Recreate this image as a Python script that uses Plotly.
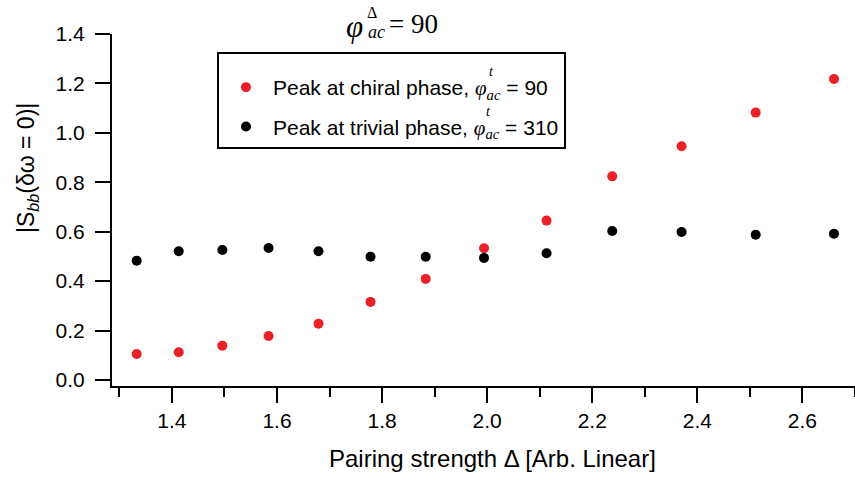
import plotly.graph_objects as go

# Pairing strength sweep and the peak height |S_bb(δω=0)| in each phase
pairing = [1.333, 1.413, 1.496, 1.584, 1.679, 1.778, 1.883, 1.994, 2.113, 2.238, 2.370, 2.511, 2.660]
chiral_peak = [0.105, 0.112, 0.139, 0.178, 0.228, 0.316, 0.409, 0.533, 0.645, 0.824, 0.946, 1.082, 1.218]
trivial_peak = [0.483, 0.521, 0.526, 0.534, 0.521, 0.499, 0.499, 0.494, 0.513, 0.603, 0.599, 0.588, 0.592]

series_names = [
    "Peak at chiral phase, ",
    "Peak at trivial phase, ",
]
series_phase = ["90", "310"]
series_colors = ["#EA2127", "#000000"]

W, H = 855, 480
ML, MR, MT, MB = 112, 0, 34, 94
PW, PH = W - ML - MR, H - MT - MB

SANS = "Liberation Sans, Arial, sans-serif"
SERIF = "Liberation Serif, Times New Roman, serif"


def px(x):
    return (x - ML) / PW


def py(y):
    return (H - MB - y) / PH


def math_label(phase):
    return (
        f"<span style='font-family:{SERIF}'><i>φ</i><sub><i>ac</i></sub></span>"
        f" = {phase}"
    )


fig = go.Figure()
for name, phase, vals, col, grp in zip(series_names, series_phase,
                                       [chiral_peak, trivial_peak],
                                       series_colors, ["a", "b"]):
    fig.add_trace(go.Scatter(
        x=pairing, y=vals, mode="markers",
        name=name + math_label(phase),
        legendgroup=grp,
        marker=dict(color=col, size=10, line=dict(width=0)),
    ))

annotations = []

# Axis titles
annotations.append(dict(
    text="Pairing strength Δ [Arb. Linear]",
    x=px(492), y=py(458), xref="paper", yref="paper",
    xanchor="center", yanchor="middle", showarrow=False,
    font=dict(family=SANS, size=24, color="black"),
))
annotations.append(dict(
    text="|S<sub><i>bb</i></sub>(δω = 0)|",
    x=px(27), y=py(168), xref="paper", yref="paper",
    xanchor="center", yanchor="middle", showarrow=False, textangle=-90,
    font=dict(family=SANS, size=23, color="black"),
))

# Heading: φ_ac^Δ = 90 with stacked indices
annotations += [
    dict(text="<i>φ</i>", x=px(354), y=py(26), xref="paper", yref="paper",
         xanchor="center", yanchor="middle", showarrow=False,
         font=dict(family=SERIF, size=31, color="black")),
    dict(text="Δ", x=px(372), y=py(12), xref="paper", yref="paper",
         xanchor="center", yanchor="middle", showarrow=False,
         font=dict(family=SERIF, size=16, color="black")),
    dict(text="<i>ac</i>", x=px(376), y=py(32), xref="paper", yref="paper",
         xanchor="center", yanchor="middle", showarrow=False,
         font=dict(family=SERIF, size=18, color="black")),
    dict(text="= 90", x=px(387), y=py(24), xref="paper", yref="paper",
         xanchor="left", yanchor="middle", showarrow=False,
         font=dict(family=SERIF, size=27, color="black")),
]

# Superscript "t" stacked over the legend's φ_ac subscripts
for tx, ty in [(487, 71), (484, 111)]:
    annotations.append(dict(
        text="<i>t</i>", x=px(tx), y=py(ty), xref="paper", yref="paper",
        xanchor="left", yanchor="middle", showarrow=False,
        font=dict(family=SERIF, size=14, color="black"),
    ))

fig.update_layout(
    width=W, height=H,
    margin=dict(l=ML, r=MR, t=MT, b=MB, pad=0),
    paper_bgcolor="white", plot_bgcolor="white",
    font=dict(family=SANS, size=21, color="black"),
    showlegend=True,
    legend=dict(
        x=px(217), y=py(52), xanchor="left", yanchor="top",
        bgcolor="white", bordercolor="black", borderwidth=2,
        font=dict(family=SANS, size=21, color="black"),
        tracegroupgap=9, itemsizing="trace", itemwidth=44,
        title=dict(text="&nbsp;", font=dict(size=10)),
    ),
    annotations=annotations,
)

fig.update_xaxes(
    range=[1.286, 2.70], showgrid=False, zeroline=False,
    showline=True, linecolor="black", linewidth=2,
    ticks="outside", ticklen=15, tickwidth=2, tickcolor="black",
    tick0=1.4, dtick=0.2, tickformat=".1f", ticklabelstandoff=0,
    minor=dict(ticks="outside", ticklen=9, tickwidth=2, tickcolor="black", dtick=0.1, tick0=1.3),
    tickfont=dict(family=SANS, size=21),
)
fig.update_yaxes(
    range=[-0.0243, 1.4], showgrid=False, zeroline=False,
    showline=True, linecolor="black", linewidth=2,
    ticks="outside", ticklen=15, tickwidth=2, tickcolor="black",
    tick0=0, dtick=0.2, tickformat=".1f", ticklabelstandoff=6,
    tickfont=dict(family=SANS, size=21),
)

fig.write_html("out.html")
